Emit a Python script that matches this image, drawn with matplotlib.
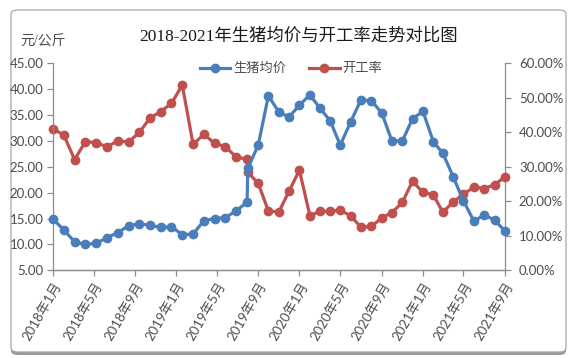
"""
Hog price vs. sow-farm operating rate, 2018-2021.
Left axis: average live hog price (yuan/kg), right axis: operating rate (%).
"""

import pandas as pd
import matplotlib
matplotlib.use("Agg")
import matplotlib.pyplot as plt
import matplotlib.ticker as mticker
from matplotlib.patches import FancyBboxPatch


# ─── Data ─────────────────────────────────────────────────────────────────────

# dates of the observations (the first stretch is not quite monthly)
DATES = [
    "2018-01-01", "2018-02-02", "2018-03-06", "2018-04-07", "2018-05-09",
    "2018-06-10", "2018-07-12", "2018-08-13", "2018-09-14", "2018-10-15",
    "2018-11-16", "2018-12-18", "2019-01-19", "2019-02-20", "2019-03-24",
    "2019-04-25", "2019-05-27", "2019-06-28", "2019-07-30",
    "2019-08-01", "2019-09-01", "2019-10-01", "2019-11-01", "2019-12-01",
    "2020-01-01", "2020-02-01", "2020-03-01", "2020-04-01", "2020-05-01",
    "2020-06-01", "2020-07-01", "2020-08-01", "2020-09-01", "2020-10-01",
    "2020-11-01", "2020-12-01", "2021-01-01", "2021-02-01", "2021-03-01",
    "2021-04-01", "2021-05-01", "2021-06-01", "2021-07-01", "2021-08-01",
    "2021-09-01",
]

# average hog price, yuan / kg
PRICE = [
    14.9, 12.8, 10.5, 10.0, 10.2, 11.3, 12.3, 13.6, 14.0, 13.7,
    13.3, 13.4, 11.9, 12.0, 14.6, 15.0, 15.2, 16.5, 18.2,
    24.7, 29.2, 38.7, 35.6, 34.6, 36.9, 38.9, 36.4, 33.9, 29.2,
    33.7, 37.9, 37.8, 35.4, 30.0, 30.0, 34.3, 35.7, 29.8, 27.6,
    23.0, 18.4, 14.5, 15.7, 14.7, 12.6,
]

# operating rate, percent
RATE = [
    41.0, 39.2, 32.1, 37.3, 37.0, 35.8, 37.5, 37.2, 40.0, 44.1,
    46.0, 48.4, 53.7, 36.5, 39.4, 36.8, 35.8, 32.8, 32.2,
    28.4, 25.2, 17.2, 16.9, 22.9, 29.0, 15.8, 17.1, 17.1, 17.4,
    15.8, 12.5, 12.7, 15.2, 16.7, 19.7, 25.8, 22.6, 21.8, 16.8,
    19.9, 22.0, 24.2, 23.7, 24.8, 27.1,
]

TICK_START = "2018-01-01"
TICK_END   = "2021-09-01"

TITLE       = "2018-2021年生猪均价与开工率走势对比图"
UNIT_LABEL  = "元/公斤"
PRICE_NAME  = "生猪均价"
RATE_NAME   = "开工率"


# ─── Style ────────────────────────────────────────────────────────────────────

BLUE      = "#4a7ebb"
RED       = "#c0504d"
AXIS_GREY = "#8c8c8c"
TEXT_GREY = "#4d4d4d"
NUM_FONT  = ["Lato", "Noto Sans CJK SC"]
SERIF_CJK = ["Liberation Serif", "Noto Sans CJK SC"]


def main():
    dates = pd.to_datetime(DATES)
    ticks = pd.date_range(TICK_START, TICK_END, freq="4MS")

    W, H = 569, 358
    fig = plt.figure(figsize=(W / 100, H / 100), dpi=100)

    # rounded frame with a soft bottom shadow
    shadow = FancyBboxPatch(
        (11 / W, 1 - 355 / H), 555 / W, 344 / H,
        boxstyle="round,pad=0,rounding_size=0.012",
        transform=fig.transFigure, fc="#9a9a9a", ec="none", zorder=-3,
    )
    frame = FancyBboxPatch(
        (11 / W, 1 - 352 / H), 555 / W, 342 / H,
        boxstyle="round,pad=0,rounding_size=0.012",
        transform=fig.transFigure, fc="white", ec="#a6a6a6", lw=0.9, zorder=-2,
    )
    fig.patches.extend([shadow, frame])

    ax = fig.add_axes([53 / W, 1 - 270.3 / H, 452 / W, 207 / H])
    ax2 = ax.twinx()
    ax.patch.set_alpha(0)

    l1, = ax.plot(dates, PRICE, color=BLUE, lw=2.3, marker="o", ms=6,
                  mec=BLUE, mfc=BLUE, zorder=3, clip_on=False, label=PRICE_NAME)
    l2, = ax2.plot(dates, RATE, color=RED, lw=2.3, marker="o", ms=6,
                   mec=RED, mfc=RED, zorder=3, clip_on=False, label=RATE_NAME)
    # keep the blue line above the red one
    ax.set_zorder(ax2.get_zorder() + 1)

    ax.set_xlim(dates[0], dates[-1])
    ax.set_ylim(5, 45)
    ax2.set_ylim(0, 60)
    ax.yaxis.set_major_locator(mticker.MultipleLocator(5))
    ax2.yaxis.set_major_locator(mticker.MultipleLocator(10))
    ax.yaxis.set_major_formatter(mticker.FormatStrFormatter("%.2f"))
    ax2.yaxis.set_major_formatter(mticker.FuncFormatter(lambda v, _: f"{v:.2f}%"))

    ax.set_xticks(ticks)
    ax.set_xticklabels([f"{d.year}年{d.month}月" for d in ticks],
                       rotation=60, ha="right", rotation_mode="anchor",
                       family=NUM_FONT, fontsize=9, color=TEXT_GREY)

    for a in (ax, ax2):
        a.spines["top"].set_visible(False)
        for side in ("left", "right", "bottom"):
            a.spines[side].set_color(AXIS_GREY)
            a.spines[side].set_linewidth(0.9)
        a.tick_params(axis="both", colors=AXIS_GREY, length=4, width=0.9,
                      labelcolor=TEXT_GREY, labelsize=9.5)
    for lab in ax.get_yticklabels() + ax2.get_yticklabels():
        lab.set_family(NUM_FONT)
    ax.tick_params(axis="y", pad=3)
    ax2.tick_params(axis="y", pad=6)
    ax.tick_params(axis="x", pad=3)
    ax2.spines["left"].set_visible(False)
    ax.spines["right"].set_visible(False)

    fig.legend([l1, l2], [PRICE_NAME, RATE_NAME], loc="center",
               bbox_to_anchor=(0.512, 1 - 69 / H), ncol=2, frameon=False,
               handlelength=2.3, handletextpad=0.25, columnspacing=1.7,
               prop={"family": SERIF_CJK, "size": 9.5}, labelcolor=TEXT_GREY)

    fig.text(299 / W, 1 - 36.5 / H, TITLE, ha="center", va="center",
             fontsize=12.5, family=SERIF_CJK, color="#1a1a1a")
    fig.text(20 / W, 1 - 42 / H, UNIT_LABEL, ha="left", va="center",
             fontsize=10, family=SERIF_CJK, color=TEXT_GREY)

    fig.savefig("out.png", dpi=100)


if __name__ == "__main__":
    main()
